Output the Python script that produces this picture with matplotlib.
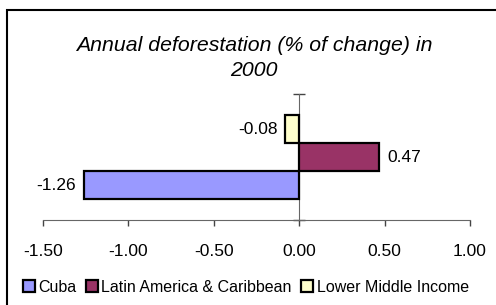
import numpy as np
import matplotlib
matplotlib.use("Agg")
import matplotlib.pyplot as plt
from matplotlib.patches import Rectangle, Patch

plt.rcParams['font.family'] = ['Liberation Sans', 'DejaVu Sans']

# data
series = ['Cuba', 'Latin America & Caribbean', 'Lower Middle Income']
values = [-1.26, 0.47, -0.08]
colors = ['#9999FF', '#993366', '#FFFFCC']
xticks = [-1.5, -1.0, -0.5, 0.0, 0.5, 1.0]

W, H = 496, 305
fig = plt.figure(figsize=(W / 100, H / 100), dpi=100)
ax = fig.add_axes([42.7 / W, 1 - 220 / H, (470 - 42.7) / W, 126 / H])

h = 1 / 3
ypos = [-h, 0, h]
for y, v, c in zip(ypos, values, colors):
    ax.barh(y, v, height=h, color=c, edgecolor='black', linewidth=1.6, zorder=3)
    if v < 0:
        ax.text(v - 0.045, y, f'{v:.2f}', ha='right', va='center', fontsize=12.5)
    else:
        ax.text(v + 0.045, y, f'{v:.2f}', ha='left', va='center', fontsize=12.5)

ax.set_xlim(-1.5, 1.0)
ax.set_ylim(-0.75, 0.75)
ax.set_xticks(xticks)
ax.set_xticklabels([f'{t:.2f}' for t in xticks], fontsize=12.5)
ax.tick_params(axis='x', direction='out', length=4, width=1, color='#444444', pad=13)

for s in ['top', 'right']:
    ax.spines[s].set_visible(False)
ax.spines['bottom'].set_color('#666666')
ax.spines['left'].set_position(('data', 0))
ax.spines['left'].set_color('#666666')
ax.set_yticks([-0.75, 0.75])
ax.set_yticklabels([])
ax.tick_params(axis='y', direction='inout', length=9, width=1, color='#444444')

fig.text(254 / W, 1 - 58 / H, 'Annual deforestation (% of change) in\n2000',
         ha='center', va='center', fontsize=15.3, style='italic', linespacing=1.35)

handles = [Patch(facecolor=c, edgecolor='black', linewidth=1.6) for c in colors]
fig.legend(handles, series, loc='center', bbox_to_anchor=(246 / W, 1 - 287 / H),
           ncol=3, frameon=False, fontsize=11.5, handlelength=0.75, handleheight=0.75,
           handletextpad=0.2, columnspacing=0.6, borderpad=0)

fig.patches.append(Rectangle((7 / W, -0.1), 1.2, 1 - 10 / H + 0.1, transform=fig.transFigure,
                             fill=False, edgecolor='black', linewidth=1.5))

fig.savefig('out.png', dpi=100)
